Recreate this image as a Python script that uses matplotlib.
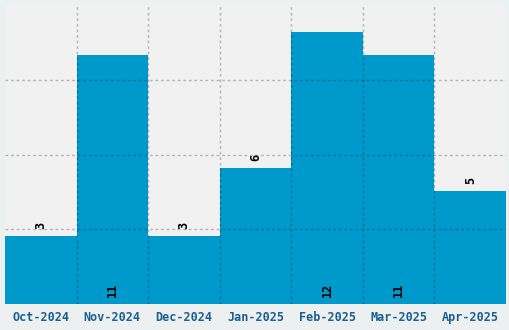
import numpy as np
import matplotlib.pyplot as plt

months = ['Oct-2024', 'Nov-2024', 'Dec-2024', 'Jan-2025', 'Feb-2025', 'Mar-2025', 'Apr-2025']
counts = [3, 11, 3, 6, 12, 11, 5]

fig = plt.figure(figsize=(5.1, 3.3), dpi=100, facecolor='#ecf0f1')
ax = fig.add_axes([5 / 510, 26 / 330, 501 / 510, 299 / 330])
ax.set_facecolor('#f1f1f1')

x = np.arange(len(months))
ax.bar(x, counts, width=1.0, color='#0099cc', zorder=1)

ymax = max(counts) * 1.1
ax.set_xlim(-0.5, len(months) - 0.5)
ax.set_ylim(0, ymax)

# grid on top of bars, at bar edges and at quarter heights
ax.set_xticks(x)
ax.set_xticklabels(months, family='DejaVu Sans Mono', fontweight='bold',
                   fontsize=8.5, color='#1a5f8e')
ax.set_xticks(x[:-1] + 0.5, minor=True)
ax.set_yticks(np.linspace(0, ymax, 5)[1:-1])
ax.set_yticklabels([])
ax.tick_params(axis='both', which='both', length=0)
ax.tick_params(axis='x', pad=5)
ax.grid(True, which='minor', axis='x', color='black', alpha=0.25,
        linestyle=(0, (2, 2)), linewidth=1, zorder=3)
ax.grid(True, which='major', axis='y', color='black', alpha=0.25,
        linestyle=(0, (2, 2)), linewidth=1, zorder=3)
ax.set_axisbelow(False)
for s in ax.spines.values():
    s.set_visible(False)

for xi, c in zip(x, counts):
    if c > ymax * 0.6:
        ax.annotate(str(c), (xi, 0), xytext=(0, 5), textcoords='offset points',
                    ha='center', va='bottom', rotation=90,
                    family='DejaVu Sans Mono', fontweight='bold', fontsize=8.5)
    else:
        ax.annotate(str(c), (xi, c), xytext=(0, 5), textcoords='offset points',
                    ha='center', va='bottom', rotation=90,
                    family='DejaVu Sans Mono', fontweight='bold', fontsize=8.5)

fig.savefig('out.png', dpi=100, facecolor=fig.get_facecolor())
